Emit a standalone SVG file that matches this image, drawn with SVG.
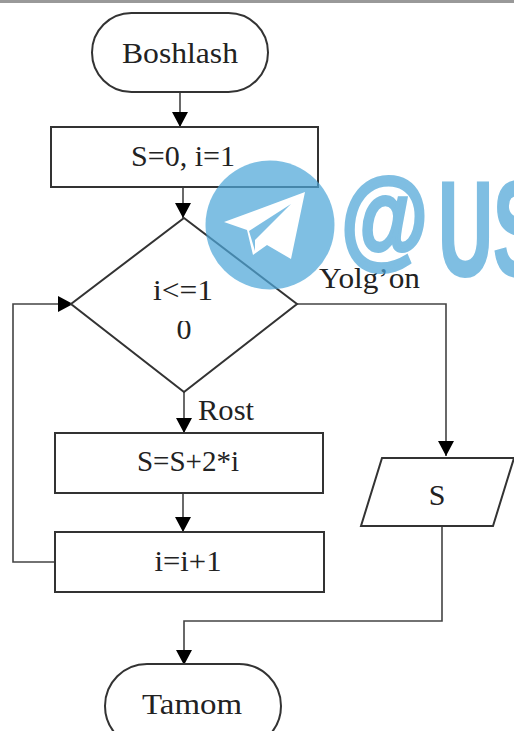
<svg xmlns="http://www.w3.org/2000/svg" width="514" height="731" viewBox="0 0 514 731">
<defs>
<marker id="arrow" markerUnits="userSpaceOnUse" markerWidth="16" markerHeight="16" refX="15" refY="8" orient="auto"><path d="M0 0L15 8L0 16Z" fill="#000"/></marker>
<clipPath id="c0"><rect x="170" y="321" width="30" height="19"/></clipPath>
</defs>
<style>
.n{fill:#fff;stroke:#333;stroke-width:2}
.c{fill:none;stroke:#444;stroke-width:1.6}
.a{marker-end:url(#arrow)}
text{font-family:"Liberation Serif","DejaVu Serif",serif;font-size:30px;fill:#222;text-anchor:middle}
.wm{fill:#4ea6d8;fill-opacity:.72}
text.wt{font-family:"Liberation Sans",sans-serif;font-weight:700;fill:#4ea6d8;stroke:#4ea6d8;opacity:.72;text-anchor:start}
text.at{font-size:110px;stroke-width:4px}
text.us{font-size:135px;stroke-width:2px}
</style>
<rect width="514" height="731" fill="#fff"/>
<rect x="0" y="0" width="514" height="3" fill="#999"/>
<g id="connectors">
<path class="c a" d="M180 92V127"/>
<path class="c a" d="M183 187V218"/>
<path class="c a" d="M184 392V433"/>
<path class="c a" d="M183 493V532"/>
<path class="c a" d="M55 562H13V304H73"/>
<path class="c a" d="M297 304H446V456"/>
<path class="c a" d="M442 526V621H184V665"/>
</g>
<g id="start"><rect class="n" x="92" y="13" width="176" height="79" rx="39.5"/><text x="180" y="63" textLength="116" lengthAdjust="spacingAndGlyphs">Boshlash</text></g>
<g id="init"><rect class="n" x="51" y="127" width="267" height="60"/><text x="183" y="166" textLength="104" lengthAdjust="spacingAndGlyphs">S=0, i=1</text></g>
<g id="cond"><path class="n" d="M184 218L297 304L184 392L71 304Z"/><text x="183" y="300" textLength="60" lengthAdjust="spacingAndGlyphs">i&lt;=1</text><text x="184" y="339" clip-path="url(#c0)">0</text></g>
<g id="sum"><rect class="n" x="55" y="433" width="268" height="60"/><text x="188" y="471" textLength="102" lengthAdjust="spacingAndGlyphs">S=S+2*i</text></g>
<g id="inc"><rect class="n" x="55" y="532" width="269" height="60"/><text x="188" y="571" textLength="67" lengthAdjust="spacingAndGlyphs">i=i+1</text></g>
<g id="out"><path class="n" d="M382 458H514L493 526H361Z"/><text x="437" y="505">S</text></g>
<g id="end"><rect class="n" x="105" y="664" width="176" height="84" rx="42"/><text x="192" y="714" textLength="100" lengthAdjust="spacingAndGlyphs">Tamom</text></g>
<text x="369.500" y="288" textLength="101" lengthAdjust="spacingAndGlyphs">Yolg’on</text>
<text x="226" y="420" textLength="56" lengthAdjust="spacingAndGlyphs">Rost</text>
<g id="watermark">
<circle class="wm" cx="270" cy="225" r="64.500"/>
<path d="M224 222L305 192L291 259L267 245L253 255L247 230Z" fill="#fff"/>
<path d="M249 231L291 204L255 240L255 251Z" class="wm"/>
<text class="wt at" x="341" y="255" textLength="87" lengthAdjust="spacingAndGlyphs">@</text>
<text class="wt us" x="438" y="276" textLength="106" lengthAdjust="spacingAndGlyphs">US</text>
</g>
</svg>
